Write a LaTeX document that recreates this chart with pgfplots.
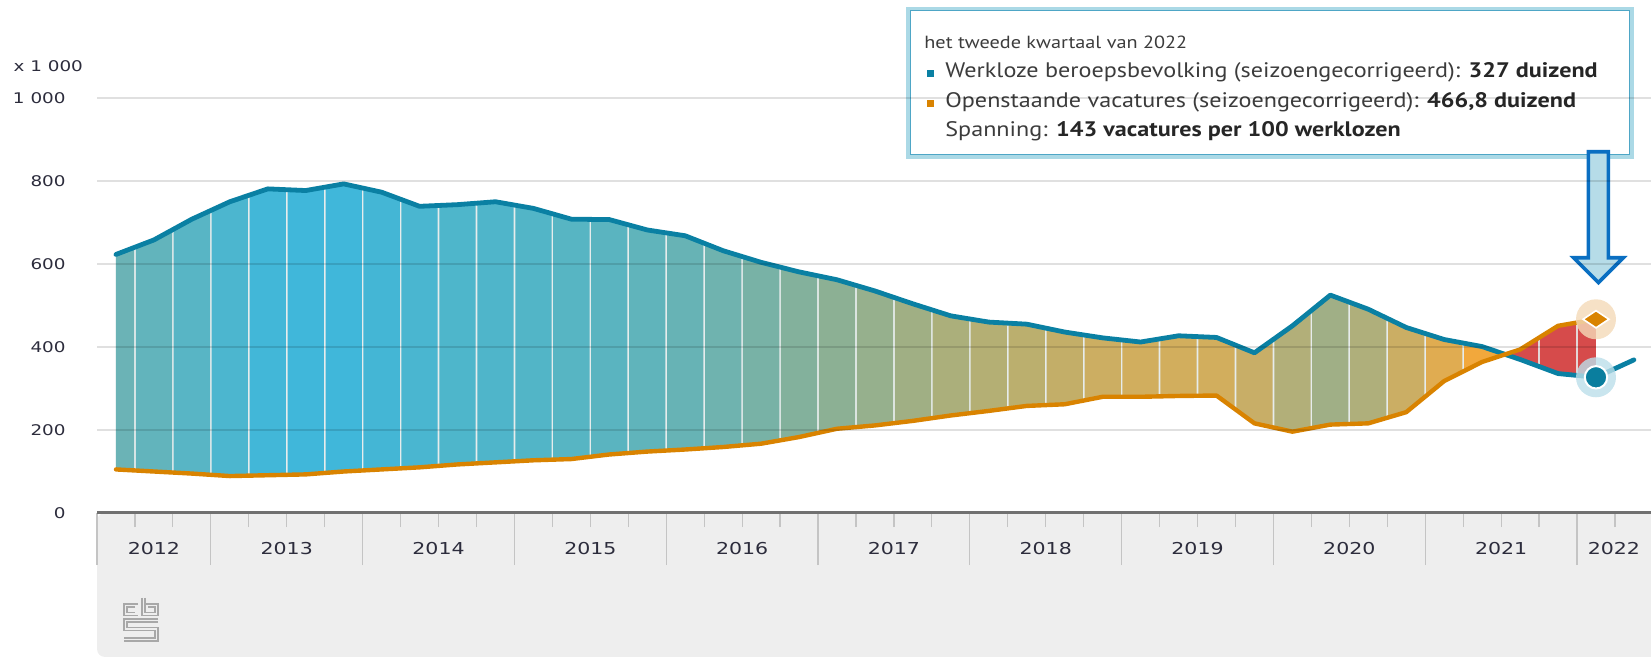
\documentclass[border=0pt]{standalone}
\usepackage{fontspec}
\setmainfont[FakeStretch=1.15]{PT Sans}
\newfontfamily\axfont[FakeStretch=1.25]{DejaVu Sans}
\usepackage{pgfplots}
\usepackage{pgfplotstable}
\pgfplotsset{compat=1.18}
\usepgfplotslibrary{fillbetween}

\definecolor{ublue}{HTML}{0A80A3}
\definecolor{vorange}{HTML}{D98300}
\definecolor{dotblue}{HTML}{0A7E9E}
\definecolor{haloblue}{HTML}{BCDFEA}
\definecolor{haloorange}{HTML}{F4DAB8}
\definecolor{bggray}{HTML}{EEEEEE}
\definecolor{axc}{HTML}{707070}
\definecolor{tickc}{HTML}{C4C4C4}
\definecolor{labc}{HTML}{2C2C3C}
\definecolor{gapc}{HTML}{E6ECEC}
\definecolor{tipouter}{HTML}{ABD9E6}
\definecolor{tipinner}{HTML}{4EA6C6}
\definecolor{tiptext}{HTML}{3C3C3C}
\definecolor{tipbold}{HTML}{262626}
\definecolor{arrowc}{HTML}{0A6FC2}
\definecolor{arrowfill}{HTML}{B6DCE8}
\definecolor{logoc}{HTML}{A8A8A8}

\definecolor{b0}{HTML}{6BB3B6}
\definecolor{b1}{HTML}{62B4BC}
\definecolor{b2}{HTML}{58B5C5}
\definecolor{b3}{HTML}{4CB6CF}
\definecolor{b4}{HTML}{42B7D8}
\definecolor{b5}{HTML}{40B7DA}
\definecolor{b6}{HTML}{40B7DA}
\definecolor{b7}{HTML}{44B6D5}
\definecolor{b8}{HTML}{4AB6D0}
\definecolor{b9}{HTML}{4EB6CB}
\definecolor{b10}{HTML}{4FB5CA}
\definecolor{b11}{HTML}{52B5C7}
\definecolor{b12}{HTML}{57B5C3}
\definecolor{b13}{HTML}{5AB4C0}
\definecolor{b14}{HTML}{60B4BB}
\definecolor{b15}{HTML}{67B3B5}
\definecolor{b16}{HTML}{6FB3AF}
\definecolor{b17}{HTML}{78B2A6}
\definecolor{b18}{HTML}{83B19C}
\definecolor{b19}{HTML}{8CB094}
\definecolor{b20}{HTML}{96B08D}
\definecolor{b21}{HTML}{A0AF84}
\definecolor{b22}{HTML}{ABAF7B}
\definecolor{b23}{HTML}{B4AF74}
\definecolor{b24}{HTML}{BBAF6E}
\definecolor{b25}{HTML}{C3AE68}
\definecolor{b26}{HTML}{CCAE62}
\definecolor{b27}{HTML}{D1AE5E}
\definecolor{b28}{HTML}{D2AE5D}
\definecolor{b29}{HTML}{D2AE5D}
\definecolor{b30}{HTML}{C8AE67}
\definecolor{b31}{HTML}{B2AF79}
\definecolor{b32}{HTML}{A0AF86}
\definecolor{b33}{HTML}{AFAF7B}
\definecolor{b34}{HTML}{CBAE64}
\definecolor{b35}{HTML}{E0AC51}
\definecolor{b36}{HTML}{F2A83C}
\definecolor{b37}{HTML}{D64B4B}
\definecolor{b38}{HTML}{D64B4B}
\definecolor{b39}{HTML}{D64B4B}

% Werkloze beroepsbevolking (x 1000), quarterly
\pgfplotstableread{
k u
0 623
1 658
2 708
3 750
4 781
5 777
6 793
7 773
8 739
9 743
10 750
11 734
12 708
13 707
14 682
15 668
16 632
17 604
18 581
19 562
20 535
21 504
22 475
23 460
24 455
25 436
26 422
27 412
28 427
29 423
30 386
31 451
32 525
33 491
34 447
35 418
36 401
37 370
38 336
39 327
40 369
}\unemp

% Openstaande vacatures (x 1000), quarterly
\pgfplotstableread{
k v
0 105
1 100
2 95
3 89
4 91
5 93
6 100
7 105
8 110
9 117
10 122
11 127
12 130
13 141
14 148
15 153
16 159
17 167
18 183
19 203
20 211
21 222
22 235
23 246
24 258
25 262
26 280
27 280
28 282
29 283
30 216
31 196
32 213
33 216
34 243
35 318
36 364
37 394
38 451
39 466.8
}\vac

\begin{document}
\begin{tikzpicture}
\fill[bggray, rounded corners=4bp] (48.5bp,0bp) rectangle (860bp,72bp);
\begin{axis}[
  at={(48.5bp,72bp)}, anchor=south west,
  scale only axis, width=777bp, height=207.5bp,
  xmin=-0.5, xmax=40.45, ymin=0, ymax=1000,
  clip=false, axis on top,
  axis x line*=bottom, axis y line*=left,
  x axis line style={-, line width=1.5bp, draw=axc},
  y axis line style={draw=none},
  ymajorgrids,
  major grid style={line width=0.7bp, draw=black, opacity=0.12},
  ytick={0,200,400,600,800,1000},
  yticklabels={0,200,400,600,800,1 000},
  ytick style={draw=none},
  yticklabel style={font=\axfont\fontsize{7.35bp}{8bp}\selectfont, text=labc, anchor=east, inner sep=0pt, xshift=10.5bp},
  xtick={-0.5,2.5,6.5,10.5,14.5,18.5,22.5,26.5,30.5,34.5,38.5},
  xticklabels={},
  minor xtick={0.5,1.5,...,39.5},
  tick align=outside,
  major tick length=26bp, minor tick length=7bp,
  xtick style={draw=tickc, line width=0.6bp},
  extra x ticks={1,4.5,8.5,12.5,16.5,20.5,24.5,28.5,32.5,36.5,39.47},
  extra x tick labels={2012,2013,2014,2015,2016,2017,2018,2019,2020,2021,2022},
  extra x tick style={major tick length=0pt, tick style={draw=none},
    xticklabel style={font=\axfont\fontsize{8.2bp}{9bp}\selectfont, text=labc, anchor=center, inner sep=0pt, yshift=-18bp}},
]
\addplot[name path=U, draw=none] table[x=k, y=u] {\unemp};
\addplot[name path=V, draw=none] table[x=k, y=v] {\vac};

\addplot[fill=gapc, draw=none] fill between[of=U and V, soft clip={domain=0:39}];

\addplot[fill=b0, draw=none] fill between[of=U and V, soft clip={domain=0:0.478}];
\addplot[fill=b1, draw=none] fill between[of=U and V, soft clip={domain=0.522:1.478}];
\addplot[fill=b2, draw=none] fill between[of=U and V, soft clip={domain=1.522:2.478}];
\addplot[fill=b3, draw=none] fill between[of=U and V, soft clip={domain=2.522:3.478}];
\addplot[fill=b4, draw=none] fill between[of=U and V, soft clip={domain=3.522:4.478}];
\addplot[fill=b5, draw=none] fill between[of=U and V, soft clip={domain=4.522:5.478}];
\addplot[fill=b6, draw=none] fill between[of=U and V, soft clip={domain=5.522:6.478}];
\addplot[fill=b7, draw=none] fill between[of=U and V, soft clip={domain=6.522:7.478}];
\addplot[fill=b8, draw=none] fill between[of=U and V, soft clip={domain=7.522:8.478}];
\addplot[fill=b9, draw=none] fill between[of=U and V, soft clip={domain=8.522:9.478}];
\addplot[fill=b10, draw=none] fill between[of=U and V, soft clip={domain=9.522:10.478}];
\addplot[fill=b11, draw=none] fill between[of=U and V, soft clip={domain=10.522:11.478}];
\addplot[fill=b12, draw=none] fill between[of=U and V, soft clip={domain=11.522:12.478}];
\addplot[fill=b13, draw=none] fill between[of=U and V, soft clip={domain=12.522:13.478}];
\addplot[fill=b14, draw=none] fill between[of=U and V, soft clip={domain=13.522:14.478}];
\addplot[fill=b15, draw=none] fill between[of=U and V, soft clip={domain=14.522:15.478}];
\addplot[fill=b16, draw=none] fill between[of=U and V, soft clip={domain=15.522:16.478}];
\addplot[fill=b17, draw=none] fill between[of=U and V, soft clip={domain=16.522:17.478}];
\addplot[fill=b18, draw=none] fill between[of=U and V, soft clip={domain=17.522:18.478}];
\addplot[fill=b19, draw=none] fill between[of=U and V, soft clip={domain=18.522:19.478}];
\addplot[fill=b20, draw=none] fill between[of=U and V, soft clip={domain=19.522:20.478}];
\addplot[fill=b21, draw=none] fill between[of=U and V, soft clip={domain=20.522:21.478}];
\addplot[fill=b22, draw=none] fill between[of=U and V, soft clip={domain=21.522:22.478}];
\addplot[fill=b23, draw=none] fill between[of=U and V, soft clip={domain=22.522:23.478}];
\addplot[fill=b24, draw=none] fill between[of=U and V, soft clip={domain=23.522:24.478}];
\addplot[fill=b25, draw=none] fill between[of=U and V, soft clip={domain=24.522:25.478}];
\addplot[fill=b26, draw=none] fill between[of=U and V, soft clip={domain=25.522:26.478}];
\addplot[fill=b27, draw=none] fill between[of=U and V, soft clip={domain=26.522:27.478}];
\addplot[fill=b28, draw=none] fill between[of=U and V, soft clip={domain=27.522:28.478}];
\addplot[fill=b29, draw=none] fill between[of=U and V, soft clip={domain=28.522:29.478}];
\addplot[fill=b30, draw=none] fill between[of=U and V, soft clip={domain=29.522:30.478}];
\addplot[fill=b31, draw=none] fill between[of=U and V, soft clip={domain=30.522:31.478}];
\addplot[fill=b32, draw=none] fill between[of=U and V, soft clip={domain=31.522:32.478}];
\addplot[fill=b33, draw=none] fill between[of=U and V, soft clip={domain=32.522:33.478}];
\addplot[fill=b34, draw=none] fill between[of=U and V, soft clip={domain=33.522:34.478}];
\addplot[fill=b35, draw=none] fill between[of=U and V, soft clip={domain=34.522:35.478}];
\addplot[fill=b36, draw=none] fill between[of=U and V, soft clip={domain=35.522:36.478}];
\addplot[fill=b37, draw=none] fill between[of=U and V, soft clip={domain=36.522:37.478}];
\addplot[fill=b38, draw=none] fill between[of=U and V, soft clip={domain=37.522:38.478}];
\addplot[fill=b39, draw=none] fill between[of=U and V, soft clip={domain=38.522:39}];

\addplot[ublue, line width=2.4bp, line join=round, line cap=round] table[x=k, y=u] {\unemp};
\addplot[vorange, line width=2.2bp, line join=round, line cap=round] table[x=k, y=v] {\vac};

\addplot[haloblue, only marks, mark=*, mark size=10bp, mark options={fill=haloblue, draw=haloblue, line width=0pt, fill opacity=0.8, draw opacity=0}] coordinates {(39,327)};
\addplot[white, only marks, mark=*, mark size=5.6bp, mark options={fill=dotblue, draw=white, line width=1bp}] coordinates {(39,327)};
\addplot[haloorange, only marks, mark=*, mark size=10bp, mark options={fill=haloorange, draw=haloorange, line width=0pt, fill opacity=0.8, draw opacity=0}] coordinates {(39,466.8)};
\addplot[white, only marks, mark=diamond*, mark size=8.6bp, mark options={fill=vorange, draw=white, line width=0.8bp, xscale=1, yscale=0.5}] coordinates {(39,466.8)};
\end{axis}

% unit label
\node[anchor=west, inner sep=0pt, text=labc, font=\axfont\fontsize{7.35bp}{8bp}\selectfont] at (6.6bp,295.2bp) {x 1 000};

% tooltip
\draw[tipouter, line width=1.6bp, fill=white] (454bp,250bp) rectangle (816bp,324.3bp);
\draw[tipinner, line width=0.45bp] (455.2bp,251.2bp) rectangle (814.8bp,323.1bp);
\node[anchor=base west, inner sep=0pt, text=tiptext, font=\fontsize{8.8bp}{10bp}\selectfont] at (462bp,304.3bp) {het tweede kwartaal van 2022};
\fill[ublue] (463.5bp,290bp) rectangle (466.8bp,293.4bp);
\node[anchor=base west, inner sep=0pt, text=tiptext, font=\fontsize{10.5bp}{12bp}\selectfont] at (472.5bp,289.8bp) {Werkloze beroepsbevolking (seizoengecorrigeerd): \textcolor{tipbold}{\bfseries 327 duizend}};
\fill[vorange] (463.5bp,275bp) rectangle (466.8bp,278.4bp);
\node[anchor=base west, inner sep=0pt, text=tiptext, font=\fontsize{10.5bp}{12bp}\selectfont] at (472.5bp,274.8bp) {Openstaande vacatures (seizoengecorrigeerd): \textcolor{tipbold}{\bfseries 466,8 duizend}};
\node[anchor=base west, inner sep=0pt, text=tiptext, font=\fontsize{10.5bp}{12bp}\selectfont] at (472.5bp,260.2bp) {Spanning: \textcolor{tipbold}{\bfseries 143 vacatures per 100 werklozen}};

% arrow
\draw[arrowc, line width=1.8bp, fill=arrowfill, line join=miter]
  (794.2bp,252.6bp) -- (794.2bp,199.6bp) -- (786.8bp,199.6bp) -- (799.2bp,187.2bp)
  -- (811.6bp,199.6bp) -- (804.2bp,199.6bp) -- (804.2bp,252.6bp) -- cycle;

% logo
\begin{scope}[logoc, line width=0.8bp]
\draw (69bp,26.5bp) -- (62bp,26.5bp) -- (62bp,20.8bp) -- (69bp,20.8bp);
\draw (67.5bp,25bp) -- (63.5bp,25bp) -- (63.5bp,22.3bp) -- (67.5bp,22.3bp);
\draw (71bp,29.5bp) -- (71bp,20.8bp) -- (79bp,20.8bp) -- (79bp,26.5bp) -- (72.5bp,26.5bp);
\draw (72.5bp,29.5bp) -- (72.5bp,22.3bp) -- (77.5bp,22.3bp) -- (77.5bp,25bp) -- (74bp,25bp);
\draw (79bp,19bp) -- (62bp,19bp) -- (62bp,13.2bp) -- (77.5bp,13.2bp) -- (77.5bp,9.5bp) -- (62bp,9.5bp);
\draw (79bp,17.5bp) -- (63.5bp,17.5bp) -- (63.5bp,14.7bp) -- (79bp,14.7bp) -- (79bp,8bp) -- (62bp,8bp);
\end{scope}

\pgfresetboundingbox
\path[use as bounding box] (0,0) rectangle (825.5bp,328.5bp);
\end{tikzpicture}
\end{document}
